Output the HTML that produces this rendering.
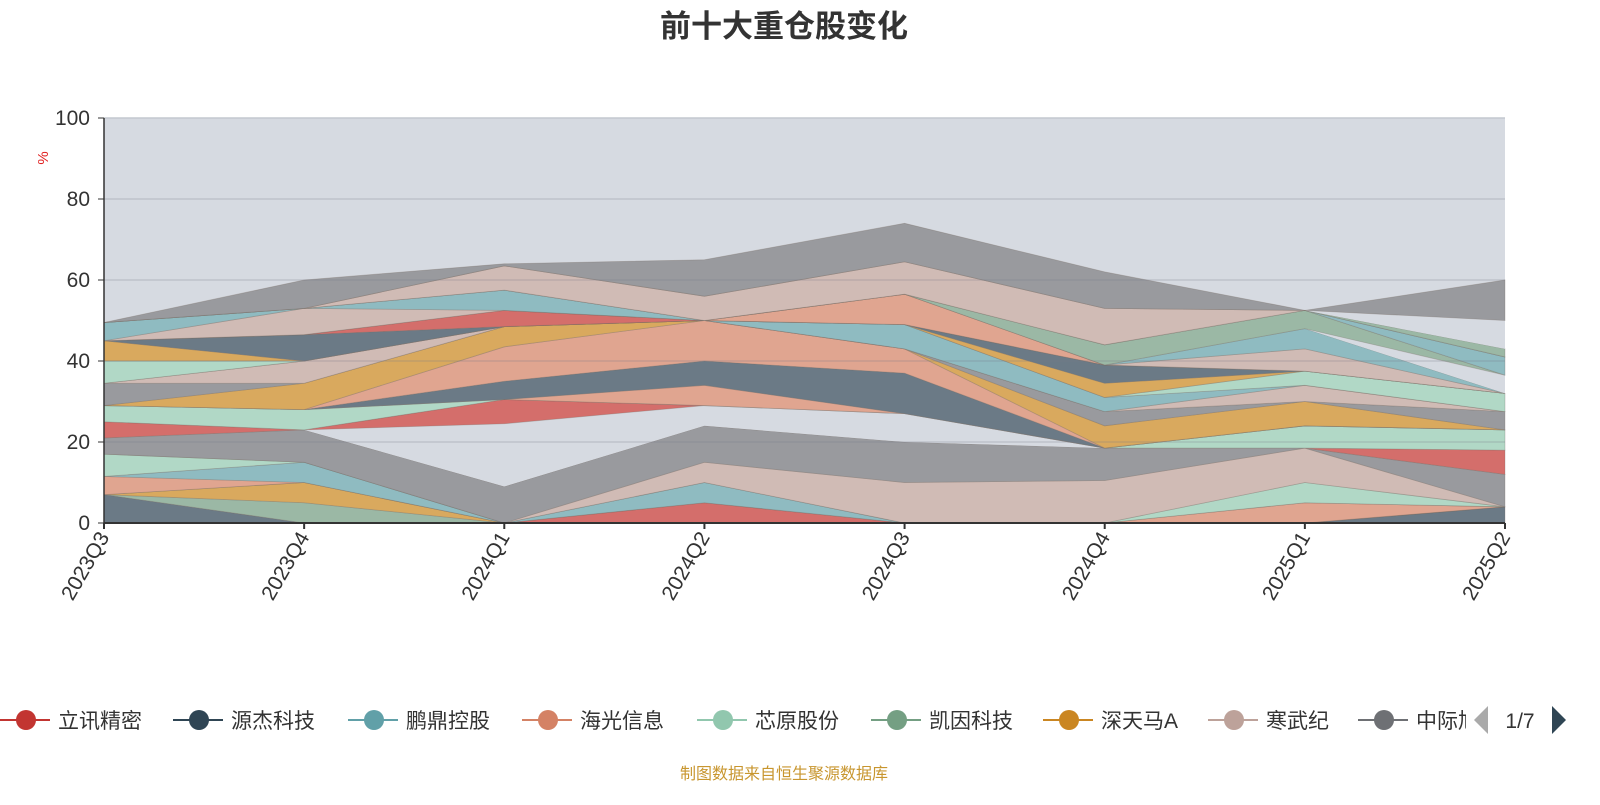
<!DOCTYPE html>
<html><head><meta charset="utf-8">
<style>
body{margin:0;width:1600px;height:800px;background:#fff;overflow:hidden;font-family:"Liberation Sans","Noto Sans CJK SC",sans-serif;}
svg text{font-family:"Liberation Sans","Noto Sans CJK SC",sans-serif;}
</style></head>
<body>
<svg id="chart" width="1600" height="800" xmlns="http://www.w3.org/2000/svg">
<text x="784" y="37" text-anchor="middle" font-size="31" font-weight="bold" fill="#333">前十大重仓股变化</text>
<rect x="104" y="118" width="1401" height="405" fill="#d6dae1"/>
<g id="bands"></g>
<g id="grid"></g>
<g id="axes"></g>
<text x="0" y="0" transform="translate(48,158) rotate(-90)" text-anchor="middle" font-size="15" fill="#e02020">%</text>
<g id="legend"></g>
<text x="784" y="779" text-anchor="middle" font-size="16" fill="#c8962f">制图数据来自恒生聚源数据库</text>
</svg>
<script>
const categories=["2023Q3","2023Q4","2024Q1","2024Q2","2024Q3","2024Q4","2025Q1","2025Q2"];
const yTicks=[0,20,40,60,80,100];
const legendNames=["立讯精密","源杰科技","鹏鼎控股","海光信息","芯原股份","凯因科技","深天马A","寒武纪","中际旭创"];
const legendColors=["#c23531","#2f4554","#61a0a8","#d48265","#91c7ae","#749f83","#ca8622","#bda29a","#6e7074"];
const s1=[7,0,0,0,0,0,0,4];
const s2=[0,5,0,0,0,0,0,0];
const s3=[0,5,0,0,0,0,0,0];
const s4=[0,0,0,5,0,0,0,0];
const s5=[4.5,0,0,0,0,0,5,0];
const s6=[0,5,0,5,0,0,0,0];
const s7=[5.5,0,0,0,0,0,5,0];
const s8=[0,0,0,5,10,10.5,8.5,0];
const s9=[4,8,9,9,10,8,0,8];
const s10=[0,0,15.5,5,7,0,0,0];
const s11=[4,0,6,0,0,0,0,6];
const s12=[4,5,0,0,0,0,5.5,5];
const s13a=[0,0,0,5,0,0,0,0];
const s13=[0,0,4.5,6,10,0,0,0];
const s14=[0,0,8.5,10,6,0,0,0];
const s15=[0,6.5,5,0,0,5.5,6,0];
const s16=[5.5,0,0,0,0,3.5,0,4.5];
const s17=[0,5.5,0,0,0,0,4,0];
const s18=[0,0,0,0,6,3.5,0,0];
const s19=[5.5,0,0,0,0,0,3.5,4.5];
const s20=[5,0,0,0,0,3.5,0,0];
const s21=[0,6.5,0,0,0,4.5,0,0];
const s22=[0,0,4,0,0,0,0,0];
const s23=[0,0,0,0,7.5,0,0,0];
const s24=[0,6.5,0,0,0,0,5.5,0];
const s25=[4.5,0,5,0,0,0,5,0];
const s26=[0,0,0,0,0,0,0,4.5];
const s27=[0,0,0,0,0,5,4.5,0];
const s28=[0,0,0,0,0,0,0,4.5];
const s29=[0,0,6,6,8,9,0,0];
const s30=[0,0,0,0,0,0,0,2];
const s31=[0,0,0,0,0,0,0,7];
const s32=[0,7,0.5,9,9.5,9,0,10];
const C={slate:"#6b7a86",gg:"#9bb8a5",or:"#d9a95e",red:"#d46e6b",sal:"#e0a590",teal:"#8fbbc1",lg:"#b1d8c6",bei:"#d0bbb5",gray:"#999a9e",gap:"#d6dae1"};
const series=[[s1,C.slate],[s2,C.gg],[s3,C.or],[s4,C.red],[s5,C.sal],[s6,C.teal],[s7,C.lg],[s8,C.bei],[s9,C.gray],[s10,C.gap],[s11,C.red],[s12,C.lg],[s13a,C.sal],[s13,C.slate],[s14,C.sal],[s15,C.or],[s16,C.gray],[s17,C.bei],[s18,C.teal],[s19,C.lg],[s20,C.or],[s21,C.slate],[s22,C.red],[s23,C.sal],[s24,C.bei],[s25,C.teal],[s26,C.gap],[s27,C.gg],[s28,C.teal],[s29,C.bei],[s30,C.gg],[s31,C.gap],[s32,C.gray]];
const NS="http://www.w3.org/2000/svg";
const X0=104,X1=1505,Y0=523,Y1=118;
function xs(i){return X0+(X1-X0)*i/(categories.length-1);}
function ys(v){return Y0-(Y0-Y1)*v/100;}
const bands=document.getElementById('bands');
let base=categories.map(()=>0);
series.forEach((s,k)=>{
  const top=base.map((b,i)=>b+s[0][i]);
  let pts=top.map((v,i)=>xs(i)+","+ys(v));
  for(let i=categories.length-1;i>=0;i--)pts.push(xs(i)+","+ys(base[i]));
  const p=document.createElementNS(NS,'polygon');
  p.setAttribute('points',pts.join(' '));
  p.setAttribute('fill',s[1]);
  p.setAttribute('stroke',s[1]==C.gap?'none':'rgba(120,110,100,0.35)');
  p.setAttribute('stroke-width','0.8');
  
  
  bands.appendChild(p);
  base=top;
});
const grid=document.getElementById('grid'),axes=document.getElementById('axes');
yTicks.forEach(t=>{
  if(t>0){const l=document.createElementNS(NS,'line');
  l.setAttribute('x1',X0);l.setAttribute('x2',X1);l.setAttribute('y1',ys(t));l.setAttribute('y2',ys(t));
  l.setAttribute('stroke',t==100?'#c4c8cf':'rgba(120,125,135,0.25)');l.setAttribute('stroke-width','1.5');
  
  
  grid.appendChild(l);}
  const tk=document.createElementNS(NS,'line');
  tk.setAttribute('x1',X0-6);tk.setAttribute('x2',X0);tk.setAttribute('y1',ys(t));tk.setAttribute('y2',ys(t));tk.setAttribute('stroke','#333');
  
  
  axes.appendChild(tk);
  const tx=document.createElementNS(NS,'text');
  tx.setAttribute('x',X0-14);tx.setAttribute('y',ys(t)+7);tx.setAttribute('text-anchor','end');tx.setAttribute('font-size','21');tx.setAttribute('fill','#333');
  tx.textContent=t;
  
  
  axes.appendChild(tx);
});
const ya=document.createElementNS(NS,'line');
ya.setAttribute('x1',X0);ya.setAttribute('x2',X0);ya.setAttribute('y1',Y1);ya.setAttribute('y2',Y0);ya.setAttribute('stroke','#333');ya.setAttribute('stroke-width','1.5');


axes.appendChild(ya);
const xa=document.createElementNS(NS,'line');
xa.setAttribute('x1',X0);xa.setAttribute('x2',X1);xa.setAttribute('y1',Y0);xa.setAttribute('y2',Y0);xa.setAttribute('stroke','#333');xa.setAttribute('stroke-width','2');


axes.appendChild(xa);
categories.forEach((c,i)=>{
  const tk=document.createElementNS(NS,'line');
  tk.setAttribute('x1',xs(i));tk.setAttribute('x2',xs(i));tk.setAttribute('y1',Y0);tk.setAttribute('y2',Y0+6);tk.setAttribute('stroke','#333');tk.setAttribute('stroke-width','2');
  
  
  axes.appendChild(tk);
  const tx=document.createElementNS(NS,'text');
  tx.setAttribute('transform','translate('+(xs(i)+6)+','+(Y0+14)+') rotate(-60)');
  tx.setAttribute('text-anchor','end');tx.setAttribute('font-size','21');tx.setAttribute('fill','#333');
  tx.textContent=c;
  
  
  axes.appendChild(tx);
});
const lg=document.getElementById('legend');
const lx=[0,173,348,522,697,871,1043,1208,1358];
legendNames.forEach((n,i)=>{
  const g=document.createElementNS(NS,'g');
  
  
  const x=lx[i];
  g.innerHTML='<line x1="'+x+'" x2="'+(x+50)+'" y1="720" y2="720" stroke="'+legendColors[i]+'" stroke-width="2"/><circle cx="'+(x+26)+'" cy="720" r="10" fill="'+legendColors[i]+'"/><text x="'+(x+58)+'" y="728" font-size="21" fill="#333">'+n+'</text>';
  lg.appendChild(g);
});
const clip=document.createElementNS(NS,'rect');
clip.setAttribute('x','1466');clip.setAttribute('y','700');clip.setAttribute('width','134');clip.setAttribute('height','40');clip.setAttribute('fill','#fff');


lg.appendChild(clip);
const pg=document.createElementNS(NS,'g');


pg.innerHTML='<polygon points="1488,706 1488,734 1474,720" fill="#aaa"/><text x="1520" y="728" text-anchor="middle" font-size="21" fill="#333">1/7</text><polygon points="1552,706 1552,734 1566,720" fill="#2f4554"/>';
lg.appendChild(pg);
</script>
</body></html>
